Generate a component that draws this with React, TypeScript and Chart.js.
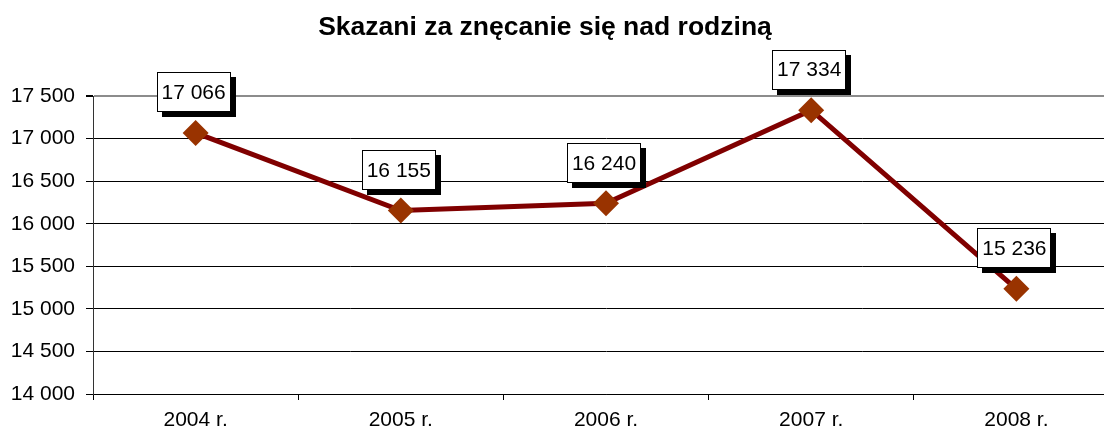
import { useEffect, useRef } from 'react';
import { Chart, registerables } from 'chart.js';

Chart.register(...registerables);

const TITLE = 'Skazani za znęcanie się nad rodziną';
const categories = ['2004 r.', '2005 r.', '2006 r.', '2007 r.', '2008 r.'];
const values = [17066, 16155, 16240, 17334, 15236];
const Y_MIN = 14000;
const Y_MAX = 17500;
const Y_STEP = 500;

const FONT = '"Liberation Sans", Arial, sans-serif';
const fmt = (v: number) => String(v).replace(/\B(?=(\d{3})+(?!\d))/g, ' ');

const titlePlugin = {
  id: 'customTitle',
  afterDraw(chart: any) {
    const ctx = chart.ctx;
    ctx.save();
    ctx.font = `bold 26.5px ${FONT}`;
    ctx.fillStyle = '#000';
    ctx.textAlign = 'center';
    ctx.textBaseline = 'middle';
    ctx.fillText(TITLE, 545, 28);
    ctx.restore();
  },
};

const boxLabelPlugin = {
  id: 'boxLabels',
  afterDatasetsDraw(chart: any) {
    const ctx = chart.ctx;
    const meta = chart.getDatasetMeta(0);
    ctx.save();
    ctx.font = `21px ${FONT}`;
    ctx.textAlign = 'center';
    ctx.textBaseline = 'middle';
    meta.data.forEach((pt: any, i: number) => {
      const text = fmt(values[i]);
      const w = Math.round(ctx.measureText(text).width + 10);
      const h = 40;
      const cx = pt.x - 2;
      const cy = pt.y - 40.5;
      const left = Math.round(cx - w / 2);
      const top = Math.round(cy - h / 2);
      ctx.fillStyle = '#000';
      ctx.fillRect(left + 5, top + 5, w, h);
      ctx.fillStyle = '#fff';
      ctx.fillRect(left, top, w, h);
      ctx.strokeStyle = '#000';
      ctx.lineWidth = 1;
      ctx.strokeRect(left + 0.5, top + 0.5, w - 1, h - 1);
      ctx.fillStyle = '#000';
      ctx.fillText(text, cx, cy + 1);
    });
    ctx.restore();
  },
};

export default function App() {
  const ref = useRef<HTMLCanvasElement | null>(null);

  useEffect(() => {
    if (!ref.current) return;
    const chart = new Chart(ref.current, {
      type: 'line',
      data: {
        labels: categories,
        datasets: [
          {
            data: values,
            borderColor: '#800000',
            borderWidth: 5,
            backgroundColor: '#993300',
            pointStyle: 'rectRot',
            pointRadius: 13,
            pointHoverRadius: 13,
            pointBackgroundColor: '#993300',
            pointBorderColor: '#993300',
            pointBorderWidth: 0,
            tension: 0,
            fill: false,
          },
        ],
      },
      options: {
        responsive: false,
        animation: false,
        devicePixelRatio: 1,
        layout: { padding: { top: 96, left: 0, right: 0, bottom: 0 } },
        plugins: {
          legend: { display: false },
          title: { display: false },
          tooltip: { enabled: false },
        },
        scales: {
          x: {
            type: 'category',
            offset: true,
            grid: {
              offset: true,
              drawOnChartArea: false,
              drawTicks: true,
              tickLength: 6,
              color: '#000',
            },
            border: { display: true, color: '#000', width: 1 },
            ticks: {
              color: '#000',
              font: { family: FONT, size: 21 },
              padding: 8,
              maxRotation: 0,
              autoSkip: false,
            },
            afterFit(scale: any) {
              scale.height = 38;
            },
          },
          y: {
            min: Y_MIN,
            max: Y_MAX,
            grid: {
              color: (c: any) => (c.tick && c.tick.value === Y_MAX ? '#8c8c8c' : '#000'),
              lineWidth: (c: any) => (c.tick && c.tick.value === Y_MAX ? 2 : 1),
              tickColor: '#000',
              tickLength: 7,
              drawTicks: true,
            },
            border: { display: true, color: '#333', width: 1 },
            ticks: {
              stepSize: Y_STEP,
              color: '#000',
              font: { family: FONT, size: 21 },
              padding: 11,
              callback: (v: any) => fmt(Number(v)),
            },
            afterFit(scale: any) {
              scale.width = 93;
            },
          },
        },
      },
      plugins: [titlePlugin, boxLabelPlugin],
    });
    return () => chart.destroy();
  }, []);

  return (
    <div
      style={{
        position: 'fixed',
        left: 0,
        top: 0,
        width: 1104,
        height: 432,
        overflow: 'hidden',
        background: '#fff',
      }}
    >
      <canvas ref={ref} width={1132} height={432} style={{ width: 1132, height: 432, display: 'block' }} />
    </div>
  );
}
